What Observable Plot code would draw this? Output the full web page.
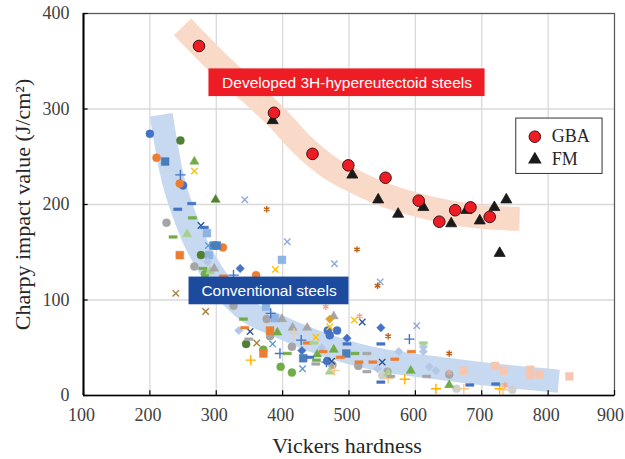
<!DOCTYPE html>
<html>
<head>
<meta charset="utf-8">
<script src="https://cdn.jsdelivr.net/npm/d3@7"></script>
<script src="https://cdn.jsdelivr.net/npm/@observablehq/plot@0.6"></script>
<style>
  body { margin: 0; background: #fff; }
  #chart svg { display: block; }
</style>
</head>
<body>
<div id="chart"></div>
<script>
// Axis ticks
const xTicks = [100, 200, 300, 400, 500, 600, 700, 800, 900];
const yTicks = [0, 100, 200, 300, 400];

// Developed 3H-hypereutectoid steels: [hardness HV, Charpy J/cm2]
const gba = [[274,366],[387,296],[445,253],[499,241],[555,228],[605,204],[636,182],[660,194],[683,197],[712,187]];
const fm  = [[385,288],[505,231],[544,205],[574,190],[612,197],[654,180],[677,194],[697,183],[719,197],[737,205],[727,149]];

// Trend bands (centre lines)
const developedBand = [[249,386],[300,350],[350,318],[390,292],[430,262],[470,239],[500,227],[550,211],[600,200],[650,192],[700,187],[757,185]];
const conventionalBand = [[217,294],[232,235],[255,183],[292,131],[340,92],[396,72],[500,45],[652,27],[816,15]];

// Conventional steels, one array per marker style
const blueCircle      = [[200,274],[250,220],[468,68],[482,68],[471,63],[467,36]];
const blueDiamond     = [[336,133],[429,47],[497,60],[548,71]];
const orangeCircle    = [[210,249],[245,222],[310,155],[360,126]];
const darkGreenCircle = [[246,267],[277,147],[345,54]];
const grayCircle      = [[225,181],[267,135],[376,80],[381,62],[326,94],[414,51],[475,32],[514,31],[558,25],[651,22]];
const lightGrayCircle = [[550,21],[662,7],[746,6]];
const greenCircle     = [[283,127],[371,48],[397,30],[414,24]];
const steelSquare     = [[223,245],[296,157],[301,157],[496,44],[431,39]];
const lightBlueSquare = [[286,170],[289,147],[399,142],[375,93],[388,81]];
const orangeSquare    = [[245,147],[381,68],[371,44]];
const salmonSquare    = [[673,26],[720,31],[733,26],[773,27],[773,21],[787,22],[832,20]];
const greenTriangle   = [[267,245],[392,66],[477,48],[593,26],[452,43],[651,11]];
const darkGreenTriangle = [[299,205]];
const lightGreenTriangle = [[256,169],[291,130],[471,25],[559,23]];
const grayTriangle    = [[297,133],[399,80],[415,71],[437,71],[477,83]];
const lavenderDiamond = [[287,140],[334,68],[459,50],[575,46],[612,51],[612,46],[621,30],[631,26],[543,28]];
const goldDiamond     = [[471,80]];
const lavenderX       = [[343,205],[407,161],[478,138],[547,119],[602,73]];
const brownStar       = [[376,195],[512,153],[543,115],[559,62],[651,44]];
const goldX           = [[267,235],[389,132],[450,61],[471,72],[508,79]];
const tanX            = [[239,107],[284,88],[361,55]];
const blueX           = [[277,178],[351,67],[520,77],[550,35],[474,36]];
const lightBlueX      = [[288,157],[385,54],[430,28]];
const pinkStar        = [[465,93],[516,83],[651,24],[735,11]];
const bluePlus        = [[246,231],[326,126],[382,86],[396,44],[428,58],[466,35],[591,59]];
const goldPlus        = [[352,37],[584,17],[631,7],[727,7]];
const lightGoldPlus   = [[417,65],[478,26],[559,18],[673,7],[732,6]];
const blueDash        = [[263,201],[242,195],[282,176],[497,54],[548,54],[548,14],[682,11],[721,12],[441,40]];
const greenDash       = [[264,186],[235,166],[280,133],[341,80],[407,44],[509,44],[451,37]];
const orangeDash      = [[311,125],[343,71],[437,55],[461,46],[487,40],[515,35],[536,35],[569,38],[594,46]];
const lightGreenDash  = [[447,55],[612,55]];
const grayDash        = [[349,59],[450,33],[527,44],[527,25],[563,20],[617,20]];

// Annotation boxes and legend
const groupLabels = [
  {text: "Developed 3H-hypereutectoid steels", x1: 289, x2: 705, y1: 313, y2: 342, fill: "#ee1c25"},
  {text: "Conventional steels", x1: 259, x2: 500, y1: 95, y2: 124, fill: "#1c4a9c"}
];
const legendBox = [{x1: 752, x2: 882, y1: 232, y2: 290}];
const legendItems = [
  {label: "GBA", x: 780, y: 271, symbol: "circle"},
  {label: "FM", x: 780, y: 247, symbol: "triangle"}
];

// A short horizontal bar marker
const dash = {
  draw(context, size) {
    const s = Math.sqrt(size);
    const w = s * 0.55, h = s * 0.18;
    context.rect(-w, -h, 2 * w, 2 * h);
  }
};

const fillShape = {circle: 4.0, square: 4.4, triangle: 3.4, diamond2: 3.8, dash: 4.2};
const series = [
  [blueCircle, "circle", "#4472c4"],
  [blueDiamond, "diamond2", "#4472c4"],
  [orangeCircle, "circle", "#ed7d31"],
  [darkGreenCircle, "circle", "#507e32"],
  [grayCircle, "circle", "#a5a5a5"],
  [lightGrayCircle, "circle", "#d0d0d0"],
  [greenCircle, "circle", "#70ad47"],
  [steelSquare, "square", "#4a7ebb"],
  [lightBlueSquare, "square", "#8db4e2"],
  [orangeSquare, "square", "#ed7d31"],
  [salmonSquare, "square", "#f8c6b0"],
  [greenTriangle, "triangle", "#70ad47"],
  [darkGreenTriangle, "triangle", "#548235"],
  [lightGreenTriangle, "triangle", "#a9d18e"],
  [grayTriangle, "triangle", "#a5a5a5"],
  [lavenderDiamond, "diamond2", "#b4c7e7"],
  [goldDiamond, "diamond2", "#d9a32a"],
  [lavenderX, "times", "#8faadc"],
  [brownStar, "asterisk", "#c55a11"],
  [goldX, "times", "#ffc000"],
  [tanX, "times", "#a8803c"],
  [blueX, "times", "#2f5597"],
  [lightBlueX, "times", "#5b9bd5"],
  [pinkStar, "asterisk", "#f4a58a"],
  [bluePlus, "plus", "#4472c4"],
  [goldPlus, "plus", "#ffb000"],
  [lightGoldPlus, "plus", "#f9c88c"],
  [blueDash, "dash", "#4472c4"],
  [greenDash, "dash", "#70ad47"],
  [orangeDash, "dash", "#ed7d31"],
  [lightGreenDash, "dash", "#a9d18e"],
  [grayDash, "dash", "#a5a5a5"]
];

const px = d => d[0], py = d => d[1];

const seriesMarks = series.map(([pts, shape, color]) => {
  if (shape in fillShape) {
    return Plot.dot(pts, {x: px, y: py, symbol: shape === "dash" ? dash : shape,
      r: fillShape[shape], fill: color, stroke: color, strokeWidth: 0.5});
  }
  return Plot.dot(pts, {x: px, y: py, symbol: shape, r: shape === "plus" ? 3.4 : 3.0,
    fill: "none", stroke: color, strokeWidth: 1.4});
});

const chart = Plot.plot({
  width: 625,
  height: 459,
  marginLeft: 83,
  marginRight: 11,
  marginTop: 13,
  marginBottom: 64,
  style: {fontFamily: "'Liberation Serif', 'Times New Roman', serif", fontSize: "18px", color: "#404040", background: "#fff"},
  x: {domain: [100, 900], axis: null},
  y: {domain: [0, 400], ticks: yTicks, tickSize: 0, tickPadding: 14, label: null},
  marks: [
    Plot.ruleX(xTicks, {x: d => d, stroke: "#d9d9d9", strokeWidth: 1.3}),
    Plot.ruleY(yTicks, {y: d => d, stroke: "#d9d9d9", strokeWidth: 1.3}),
    Plot.line(developedBand, {x: px, y: py, stroke: "#f9dac8", strokeWidth: 24, curve: "monotone-x", strokeLinecap: "butt"}),
    Plot.line(conventionalBand, {x: px, y: py, stroke: "#c6d9f0", strokeWidth: 23, curve: "monotone-x", strokeLinecap: "butt"}),
    ...seriesMarks,
    Plot.dot(fm, {x: px, y: py, symbol: "triangle", r: 4.1, fill: "#1a1a1a", stroke: "#1a1a1a", strokeWidth: 0.8}),
    Plot.dot(gba, {x: px, y: py, symbol: "circle", r: 5.8, fill: "#ee1c25", stroke: "#3a1414", strokeWidth: 1}),
    Plot.rect(groupLabels, {x1: "x1", x2: "x2", y1: "y1", y2: "y2", fill: "fill"}),
    Plot.text(groupLabels, {x: d => (d.x1 + d.x2) / 2, y: d => (d.y1 + d.y2) / 2, text: "text",
      fill: "#fff", fontSize: 15.5, fontFamily: "'Liberation Sans', Arial, sans-serif"}),
    Plot.rect(legendBox, {x1: "x1", x2: "x2", y1: "y1", y2: "y2", fill: "#fff", stroke: "#333", strokeWidth: 1}),
    Plot.dot(legendItems.filter(d => d.symbol === "circle"), {x: "x", y: "y", symbol: "circle", r: 5.8, fill: "#ee1c25", stroke: "#3a1414", strokeWidth: 1}),
    Plot.dot(legendItems.filter(d => d.symbol === "triangle"), {x: "x", y: "y", symbol: "triangle", r: 4.1, fill: "#1a1a1a", stroke: "#1a1a1a"}),
    Plot.text(legendItems, {x: "x", y: "y", text: "label", dx: 17, textAnchor: "start", fontSize: 18, fill: "#262626"}),
    Plot.frame({stroke: "#595959", strokeWidth: 1.2}),
    Plot.ruleX([100], {x: d => d, stroke: "#000", strokeWidth: 2}),
    Plot.ruleY([0], {y: d => d, stroke: "#000", strokeWidth: 1.5}),
    Plot.ruleX(xTicks, {x: d => d, y1: 0, y2: 5, stroke: "#000", strokeWidth: 1.2}),
    Plot.ruleY(yTicks, {y: d => d, x1: 100, x2: 107, stroke: "#000", strokeWidth: 1.2}),
    // x tick labels (the last one nudged inward so it stays on the page)
    Plot.text(xTicks.filter(d => d < 900), {x: d => d, frameAnchor: "bottom", text: d => String(d),
      lineAnchor: "middle", textAnchor: "middle", dx: -2, dy: 19.5, fontSize: 18, fill: "#404040"}),
    Plot.text(xTicks.filter(d => d === 900), {x: d => d, frameAnchor: "bottom", text: d => String(d),
      lineAnchor: "middle", textAnchor: "middle", dx: -4, dy: 19.5, fontSize: 18, fill: "#404040"}),
    Plot.text(["Vickers hardness"], {frameAnchor: "bottom", textAnchor: "middle", lineAnchor: "middle",
      dx: -2, dy: 50, fontSize: 22, fill: "#262626"}),
    Plot.text(["Charpy impact value (J/cm²)"], {frameAnchor: "left", textAnchor: "middle", lineAnchor: "middle",
      dx: -61, rotate: -90, fontSize: 22, fill: "#262626"})
  ]
});

document.getElementById("chart").append(chart);
</script>
</body>
</html>
